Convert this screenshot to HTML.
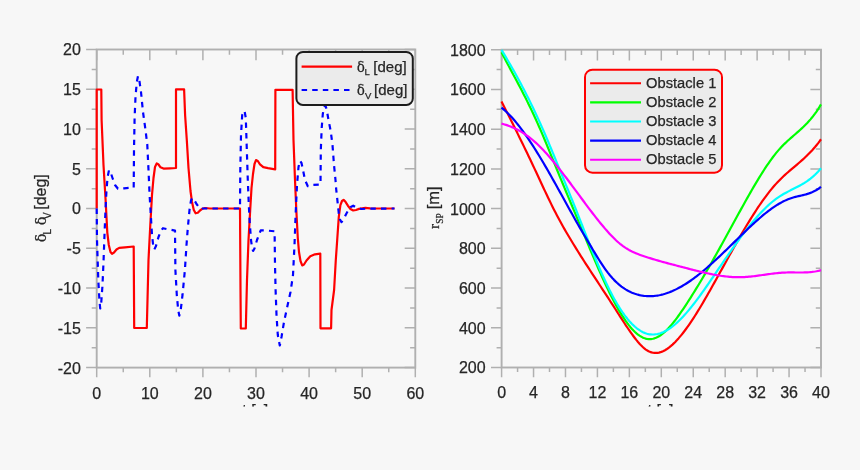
<!DOCTYPE html>
<html><head><meta charset="utf-8"><title>plot</title>
<style>
html,body{margin:0;padding:0;background:#f7f7f7;}
body{width:860px;height:470px;overflow:hidden;}
svg{display:block;filter:blur(0.3px);}
text{font-family:"Liberation Sans",Arial,Helvetica,sans-serif;fill:#262626;stroke:#262626;stroke-width:0.25px;}
.serif{font-family:"Liberation Serif","Times New Roman",serif;}
.greek{font-family:"DejaVu Math TeX Gyre","DejaVu Serif","Liberation Serif",serif;}
</style></head><body>
<svg width="860" height="470" viewBox="0 0 860 470">
<defs>
<clipPath id="cut"><rect x="0" y="0" width="860" height="406.6"/></clipPath>
<clipPath id="lclip"><rect x="94.7" y="49.5" width="320.6" height="318.1"/></clipPath>
<clipPath id="rclip"><rect x="499.6" y="47.7" width="323.4" height="321.8"/></clipPath>
</defs>
<rect width="860" height="470" fill="#f7f7f7"/>

<g clip-path="url(#cut)">
<rect x="96.7" y="49.5" width="318.6" height="318.1" fill="none" stroke="#b0b0b0" stroke-width="1.9"/>
<path d="M96.7 367.6V377.3M96.7 49.5V60.3M149.8 367.6V377.3M149.8 49.5V60.3M202.9 367.6V377.3M202.9 49.5V60.3M256 367.6V377.3M256 49.5V60.3M309.1 367.6V377.3M309.1 49.5V60.3M362.2 367.6V377.3M362.2 49.5V60.3M415.3 367.6V377.3M415.3 49.5V60.3M123.25 367.6V372.2M123.25 49.5V54.8M176.35 367.6V372.2M176.35 49.5V54.8M229.45 367.6V372.2M229.45 49.5V54.8M282.55 367.6V372.2M282.55 49.5V54.8M335.65 367.6V372.2M335.65 49.5V54.8M388.75 367.6V372.2M388.75 49.5V54.8M96.7 367.6H86.1M415.3 367.6H404.7M96.7 327.84H86.1M415.3 327.84H404.7M96.7 288.08H86.1M415.3 288.08H404.7M96.7 248.31H86.1M415.3 248.31H404.7M96.7 208.55H86.1M415.3 208.55H404.7M96.7 168.79H86.1M415.3 168.79H404.7M96.7 129.03H86.1M415.3 129.03H404.7M96.7 89.26H86.1M415.3 89.26H404.7M96.7 49.5H86.1M415.3 49.5H404.7M96.7 347.72H91.7M415.3 347.72H410.1M96.7 307.96H91.7M415.3 307.96H410.1M96.7 268.19H91.7M415.3 268.19H410.1M96.7 228.43H91.7M415.3 228.43H410.1M96.7 188.67H91.7M415.3 188.67H410.1M96.7 148.91H91.7M415.3 148.91H410.1M96.7 109.14H91.7M415.3 109.14H410.1M96.7 69.38H91.7M415.3 69.38H410.1" fill="none" stroke="#b0b0b0" stroke-width="1.5"/>
<text x="80.8" y="373.5" font-size="16" text-anchor="end">-20</text>
<text x="80.8" y="333.74" font-size="16" text-anchor="end">-15</text>
<text x="80.8" y="293.98" font-size="16" text-anchor="end">-10</text>
<text x="80.8" y="254.21" font-size="16" text-anchor="end">-5</text>
<text x="80.8" y="214.45" font-size="16" text-anchor="end">0</text>
<text x="80.8" y="174.69" font-size="16" text-anchor="end">5</text>
<text x="80.8" y="134.93" font-size="16" text-anchor="end">10</text>
<text x="80.8" y="95.16" font-size="16" text-anchor="end">15</text>
<text x="80.8" y="55.4" font-size="16" text-anchor="end">20</text>
<text x="96.7" y="398.5" font-size="16" text-anchor="middle">0</text>
<text x="149.8" y="398.5" font-size="16" text-anchor="middle">10</text>
<text x="202.9" y="398.5" font-size="16" text-anchor="middle">20</text>
<text x="256" y="398.5" font-size="16" text-anchor="middle">30</text>
<text x="309.1" y="398.5" font-size="16" text-anchor="middle">40</text>
<text x="362.2" y="398.5" font-size="16" text-anchor="middle">50</text>
<text x="415.3" y="398.5" font-size="16" text-anchor="middle">60</text>
<text x="255.2" y="416" font-size="16" text-anchor="middle">t [s]</text>
<text transform="translate(46,0) rotate(-90)" font-size="16"><tspan class="greek" x="-242.6" font-size="14">δ</tspan><tspan x="-234.4" font-size="10" dy="4.6">L</tspan><tspan class="greek" x="-225.6" dy="-4.6" font-size="14">δ</tspan><tspan x="-219" font-size="10" dy="4.6">V</tspan><tspan x="-209.8" dy="-4.6">[deg]</tspan></text>
<g clip-path="url(#lclip)" fill="none" stroke-width="2.2" stroke-linejoin="round">
<path d="M96.7 208.5 L96.7 89.5 L101.3 89.5 L101.6 120 L103.5 165 L105.6 200 L107.3 232.6 L108.8 245 L110.5 252 L112 253.8 L114 252.5 L116.5 249.5 L119.2 247.9 L125 247.3 L133.7 246.5 L134.2 328 L146.8 328 L147.5 300 L148.5 260 L150.3 225 L152 195 L153.5 178 L155 167 L156.7 163.4 L158.5 164.5 L160.5 167.3 L163.5 168.6 L170 168.3 L176 168 L176 89.4 L184.1 89.4 L185.1 115 L186.8 140 L188.5 168 L190.5 191 L192 202 L193.8 210 L195.6 213.3 L197.8 212.8 L200 210.5 L202.5 208.7 L205 208 L210 208.5 L240 208.5 L240.5 290 L240.8 328.5 L245.8 328.5 L247 280 L248.5 240 L250.2 210 L251.5 188 L253 174 L254.5 164 L256 160.1 L257.8 161 L260 164.4 L263.3 167.2 L268 168.2 L275.2 169.3 L275.4 89.8 L292.6 89.8 L293.5 140 L295 180 L296.3 210 L297.8 238 L299 252 L300.5 261 L302.2 265.4 L304 264.5 L306.5 260.5 L310.3 256.2 L315 254.3 L320.3 253.6 L320.5 328.3 L331.1 328.3 L331.5 310 L334.1 290 L335.8 260 L337.2 240 L338.8 216.9 L340.4 205.2 L342 201 L343.6 199.9 L345.5 201.8 L347.9 205.7 L350.5 209 L353.2 210.5 L356 210 L359 208.9 L365.4 207.9 L370 208.4 L394.5 208.5" stroke="#ff0000"/>
<path d="M96.7 208.5 L97 240 L98.3 280 L99.4 300 L100.2 308.5 L101.3 302 L102.5 285 L103.5 262 L104.5 235 L105.5 210 L106.5 190 L107.6 177 L109 170.2 L110.5 172 L112.5 178 L115 185 L118 188.8 L124 188.3 L133.7 187.6 L134 150 L134.6 118 L135.5 97 L136.8 82 L138 76.1 L139.3 80 L141 92 L143 112 L145.5 130 L147.3 145 L148.5 170 L149.6 195 L150.8 215 L152 235 L153.2 245.5 L154.3 249.5 L156 246 L158.5 237 L161 230.5 L163 228.2 L168 229.3 L175 230.6 L175.4 270 L176.8 295 L178.2 310 L179.3 315.6 L180.6 311 L182.5 295 L184.9 270 L186.5 245 L187.8 228 L189.5 210 L191 200.5 L192.2 197.9 L194 199.5 L196.5 204 L199.9 208.5 L240 208.5 L240.3 170 L241 135 L242.2 115 L244.5 110.7 L245.8 118 L246.5 140 L247.8 180 L248.8 205 L249.7 222 L251 240 L252.2 248.5 L253.1 250.9 L254.5 248.5 L257 240 L260.7 230.4 L266 230.5 L274.6 231.3 L275 265 L275.6 290 L276.5 315 L277.8 335 L279.8 345.5 L281.5 337 L284 322 L287 308 L290.5 292 L293 275 L294.5 245 L295.6 215 L297 185 L298.5 167 L299.9 160.7 L301.5 163 L303 170 L305 180 L307.8 186.2 L312 185 L320.5 184.5 L320.8 150 L321.7 128 L322.8 114 L324 107.5 L325.3 105.4 L326.6 109 L328.5 120 L330.7 131 L332.5 145 L334 165 L335.5 180 L336.2 189.3 L337.8 204.1 L338.8 213.7 L340 219.5 L341.5 222.2 L343.5 219.5 L346.3 213.7 L350 207.3 L353.2 205.7 L355.9 207.3 L361.2 209 L367.6 208.6 L394.5 208.5" stroke="#0000ff" stroke-dasharray="5.4 5.2"/>
</g>
<rect x="296.4" y="52" width="116.4" height="52.9" rx="6.5" fill="#ebebeb" stroke="#1c1c1c" stroke-width="2"/>
<path d="M301.6 66.6H352.1" stroke="#ff0000" stroke-width="2.1"/>
<path d="M301.6 90H350" stroke="#0000ff" stroke-width="2.1" stroke-dasharray="5.5 5.1"/>
<text class="greek" transform="translate(356.4,71.5) scale(0.92,1)" font-size="14.3">δ</text>
<text x="364.5" y="75.4" font-size="9.5">L</text>
<text x="373.3" y="71.5" font-size="15">[deg]</text>
<text class="greek" transform="translate(356.4,94.9) scale(0.92,1)" font-size="14.3">δ</text>
<text x="365.0" y="98.80000000000001" font-size="9.5">V</text>
<text x="374.1" y="94.9" font-size="15">[deg]</text>
<rect x="501.6" y="49.7" width="319.4" height="317.8" fill="none" stroke="#b0b0b0" stroke-width="1.9"/>
<path d="M501.6 367.5V377.2M501.6 49.7V60.5M533.54 367.5V377.2M533.54 49.7V60.5M565.48 367.5V377.2M565.48 49.7V60.5M597.42 367.5V377.2M597.42 49.7V60.5M629.36 367.5V377.2M629.36 49.7V60.5M661.3 367.5V377.2M661.3 49.7V60.5M693.24 367.5V377.2M693.24 49.7V60.5M725.18 367.5V377.2M725.18 49.7V60.5M757.12 367.5V377.2M757.12 49.7V60.5M789.06 367.5V377.2M789.06 49.7V60.5M821 367.5V377.2M821 49.7V60.5M517.57 367.5V372.1M517.57 49.7V55M549.51 367.5V372.1M549.51 49.7V55M581.45 367.5V372.1M581.45 49.7V55M613.39 367.5V372.1M613.39 49.7V55M645.33 367.5V372.1M645.33 49.7V55M677.27 367.5V372.1M677.27 49.7V55M709.21 367.5V372.1M709.21 49.7V55M741.15 367.5V372.1M741.15 49.7V55M773.09 367.5V372.1M773.09 49.7V55M805.03 367.5V372.1M805.03 49.7V55M501.6 367.5H491M821 367.5H810.4M501.6 327.77H491M821 327.77H810.4M501.6 288.05H491M821 288.05H810.4M501.6 248.32H491M821 248.32H810.4M501.6 208.6H491M821 208.6H810.4M501.6 168.88H491M821 168.88H810.4M501.6 129.15H491M821 129.15H810.4M501.6 89.43H491M821 89.43H810.4M501.6 49.7H491M821 49.7H810.4M501.6 347.64H496.6M821 347.64H815.8M501.6 307.91H496.6M821 307.91H815.8M501.6 268.19H496.6M821 268.19H815.8M501.6 228.46H496.6M821 228.46H815.8M501.6 188.74H496.6M821 188.74H815.8M501.6 149.01H496.6M821 149.01H815.8M501.6 109.29H496.6M821 109.29H815.8M501.6 69.56H496.6M821 69.56H815.8" fill="none" stroke="#b0b0b0" stroke-width="1.5"/>
<text x="485.6" y="373.4" font-size="16" text-anchor="end">200</text>
<text x="485.6" y="333.67" font-size="16" text-anchor="end">400</text>
<text x="485.6" y="293.95" font-size="16" text-anchor="end">600</text>
<text x="485.6" y="254.22" font-size="16" text-anchor="end">800</text>
<text x="485.6" y="214.5" font-size="16" text-anchor="end">1000</text>
<text x="485.6" y="174.78" font-size="16" text-anchor="end">1200</text>
<text x="485.6" y="135.05" font-size="16" text-anchor="end">1400</text>
<text x="485.6" y="95.33" font-size="16" text-anchor="end">1600</text>
<text x="485.6" y="55.6" font-size="16" text-anchor="end">1800</text>
<text x="501.6" y="398.3" font-size="16" text-anchor="middle">0</text>
<text x="533.54" y="398.3" font-size="16" text-anchor="middle">4</text>
<text x="565.48" y="398.3" font-size="16" text-anchor="middle">8</text>
<text x="597.42" y="398.3" font-size="16" text-anchor="middle">12</text>
<text x="629.36" y="398.3" font-size="16" text-anchor="middle">16</text>
<text x="661.3" y="398.3" font-size="16" text-anchor="middle">20</text>
<text x="693.24" y="398.3" font-size="16" text-anchor="middle">24</text>
<text x="725.18" y="398.3" font-size="16" text-anchor="middle">28</text>
<text x="757.12" y="398.3" font-size="16" text-anchor="middle">32</text>
<text x="789.06" y="398.3" font-size="16" text-anchor="middle">36</text>
<text x="821" y="398.3" font-size="16" text-anchor="middle">40</text>
<text x="660.5" y="416" font-size="16" text-anchor="middle">t [s]</text>
<text transform="translate(439.2,0) rotate(-90)" font-size="16.5"><tspan class="serif" x="-229" font-size="15.2">r</tspan><tspan class="serif" x="-223.8" font-size="9.4" dy="4">SP</tspan><tspan x="-209.3" dy="-4">[m]</tspan></text>
<g clip-path="url(#rclip)" fill="none" stroke-width="2.2" stroke-linejoin="round">
<path d="M501.5 101.52 L503 104.47 L504.5 107.43 L506 110.39 L507.5 113.36 L509 116.34 L510.5 119.32 L512 122.31 L513.5 125.31 L515 128.32 L516.5 131.34 L518 134.37 L519.5 137.41 L521 140.47 L522.5 143.54 L524 146.62 L525.5 149.71 L527 152.82 L528.5 155.95 L530 159.09 L531.5 162.25 L533 165.43 L534.5 168.63 L536 171.84 L537.5 175.06 L539 178.28 L540.5 181.51 L542 184.73 L543.5 187.94 L545 191.13 L546.5 194.3 L548 197.45 L549.5 200.56 L551 203.64 L552.5 206.67 L554 209.66 L555.5 212.59 L557 215.46 L558.5 218.29 L560 221.06 L561.5 223.78 L563 226.46 L564.5 229.09 L566 231.69 L567.5 234.26 L569 236.79 L570.5 239.3 L572 241.79 L573.5 244.25 L575 246.69 L576.5 249.12 L578 251.53 L579.5 253.92 L581 256.29 L582.5 258.65 L584 261 L585.5 263.33 L587 265.65 L588.5 267.97 L590 270.27 L591.5 272.57 L593 274.86 L594.5 277.15 L596 279.43 L597.5 281.71 L599 283.99 L600.5 286.27 L602 288.55 L603.5 290.83 L605 293.11 L606.5 295.4 L608 297.69 L609.5 299.99 L611 302.3 L612.5 304.61 L614 306.94 L615.5 309.28 L617 311.62 L618.5 313.97 L620 316.31 L621.5 318.64 L623 320.96 L624.5 323.25 L626 325.52 L627.5 327.76 L629 329.95 L630.5 332.11 L632 334.21 L633.5 336.26 L635 338.24 L636.5 340.15 L638 341.97 L639.5 343.69 L641 345.29 L642.5 346.77 L644 348.11 L645.5 349.3 L647 350.33 L648.5 351.18 L650 351.86 L651.5 352.38 L653 352.72 L654.5 352.91 L656 352.95 L657.5 352.83 L659 352.57 L660.5 352.17 L662 351.64 L663.5 350.98 L665 350.2 L666.5 349.29 L668 348.28 L669.5 347.15 L671 345.92 L672.5 344.59 L674 343.17 L675.5 341.66 L677 340.07 L678.5 338.4 L680 336.65 L681.5 334.84 L683 332.95 L684.5 331 L686 328.99 L687.5 326.91 L689 324.78 L690.5 322.59 L692 320.35 L693.5 318.06 L695 315.73 L696.5 313.35 L698 310.93 L699.5 308.47 L701 305.98 L702.5 303.45 L704 300.89 L705.5 298.31 L707 295.7 L708.5 293.07 L710 290.42 L711.5 287.76 L713 285.08 L714.5 282.39 L716 279.69 L717.5 276.99 L719 274.28 L720.5 271.57 L722 268.86 L723.5 266.14 L725 263.43 L726.5 260.72 L728 258.02 L729.5 255.32 L731 252.63 L732.5 249.95 L734 247.28 L735.5 244.62 L737 241.98 L738.5 239.36 L740 236.75 L741.5 234.17 L743 231.6 L744.5 229.06 L746 226.54 L747.5 224.05 L749 221.58 L750.5 219.15 L752 216.75 L753.5 214.38 L755 212.04 L756.5 209.74 L758 207.48 L759.5 205.25 L761 203.07 L762.5 200.93 L764 198.84 L765.5 196.79 L767 194.79 L768.5 192.83 L770 190.93 L771.5 189.08 L773 187.29 L774.5 185.55 L776 183.87 L777.5 182.25 L779 180.68 L780.5 179.17 L782 177.71 L783.5 176.29 L785 174.9 L786.5 173.55 L788 172.23 L789.5 170.93 L791 169.64 L792.5 168.36 L794 167.1 L795.5 165.83 L797 164.55 L798.5 163.27 L800 161.97 L801.5 160.66 L803 159.31 L804.5 157.94 L806 156.53 L807.5 155.07 L809 153.57 L810.5 152.02 L812 150.42 L813.5 148.74 L815 147.01 L816.5 145.2 L818 143.31 L819.5 141.33 L821 139.27" stroke="#ff0000"/>
<path d="M501.5 52.24 L503 55.16 L504.5 58.05 L506 60.91 L507.5 63.74 L509 66.56 L510.5 69.37 L512 72.17 L513.5 74.97 L515 77.76 L516.5 80.57 L518 83.39 L519.5 86.23 L521 89.1 L522.5 91.99 L524 94.91 L525.5 97.87 L527 100.87 L528.5 103.92 L530 107 L531.5 110.13 L533 113.3 L534.5 116.52 L536 119.79 L537.5 123.11 L539 126.49 L540.5 129.92 L542 133.4 L543.5 136.93 L545 140.5 L546.5 144.11 L548 147.74 L549.5 151.39 L551 155.07 L552.5 158.75 L554 162.43 L555.5 166.11 L557 169.77 L558.5 173.42 L560 177.06 L561.5 180.68 L563 184.29 L564.5 187.88 L566 191.47 L567.5 195.06 L569 198.63 L570.5 202.21 L572 205.79 L573.5 209.36 L575 212.94 L576.5 216.53 L578 220.12 L579.5 223.73 L581 227.34 L582.5 230.96 L584 234.57 L585.5 238.19 L587 241.8 L588.5 245.39 L590 248.98 L591.5 252.54 L593 256.09 L594.5 259.61 L596 263.1 L597.5 266.56 L599 269.99 L600.5 273.37 L602 276.71 L603.5 280.01 L605 283.26 L606.5 286.45 L608 289.58 L609.5 292.65 L611 295.66 L612.5 298.6 L614 301.47 L615.5 304.26 L617 306.97 L618.5 309.6 L620 312.14 L621.5 314.59 L623 316.95 L624.5 319.21 L626 321.37 L627.5 323.42 L629 325.37 L630.5 327.2 L632 328.92 L633.5 330.52 L635 331.99 L636.5 333.34 L638 334.56 L639.5 335.64 L641 336.58 L642.5 337.39 L644 338.05 L645.5 338.56 L647 338.91 L648.5 339.12 L650 339.16 L651.5 339.04 L653 338.76 L654.5 338.34 L656 337.77 L657.5 337.06 L659 336.22 L660.5 335.25 L662 334.16 L663.5 332.96 L665 331.64 L666.5 330.22 L668 328.7 L669.5 327.09 L671 325.38 L672.5 323.6 L674 321.74 L675.5 319.81 L677 317.81 L678.5 315.75 L680 313.64 L681.5 311.49 L683 309.28 L684.5 307.05 L686 304.78 L687.5 302.48 L689 300.16 L690.5 297.81 L692 295.44 L693.5 293.04 L695 290.62 L696.5 288.17 L698 285.71 L699.5 283.22 L701 280.72 L702.5 278.19 L704 275.65 L705.5 273.08 L707 270.51 L708.5 267.91 L710 265.3 L711.5 262.67 L713 260.03 L714.5 257.38 L716 254.71 L717.5 252.04 L719 249.35 L720.5 246.65 L722 243.94 L723.5 241.22 L725 238.5 L726.5 235.77 L728 233.03 L729.5 230.29 L731 227.54 L732.5 224.8 L734 222.05 L735.5 219.3 L737 216.56 L738.5 213.82 L740 211.1 L741.5 208.38 L743 205.67 L744.5 202.97 L746 200.29 L747.5 197.63 L749 194.98 L750.5 192.35 L752 189.75 L753.5 187.17 L755 184.61 L756.5 182.09 L758 179.59 L759.5 177.13 L761 174.71 L762.5 172.33 L764 169.99 L765.5 167.7 L767 165.45 L768.5 163.26 L770 161.13 L771.5 159.05 L773 157.03 L774.5 155.08 L776 153.19 L777.5 151.37 L779 149.63 L780.5 147.96 L782 146.36 L783.5 144.83 L785 143.36 L786.5 141.94 L788 140.55 L789.5 139.21 L791 137.88 L792.5 136.58 L794 135.29 L795.5 133.99 L797 132.69 L798.5 131.38 L800 130.04 L801.5 128.67 L803 127.26 L804.5 125.81 L806 124.3 L807.5 122.73 L809 121.08 L810.5 119.36 L812 117.55 L813.5 115.65 L815 113.64 L816.5 111.52 L818 109.29 L819.5 106.92 L821 104.42" stroke="#00ff00"/>
<path d="M501.5 49.86 L503 52.35 L504.5 54.86 L506 57.39 L507.5 59.95 L509 62.52 L510.5 65.12 L512 67.74 L513.5 70.4 L515 73.07 L516.5 75.78 L518 78.52 L519.5 81.29 L521 84.09 L522.5 86.92 L524 89.79 L525.5 92.69 L527 95.63 L528.5 98.61 L530 101.63 L531.5 104.69 L533 107.79 L534.5 110.93 L536 114.12 L537.5 117.35 L539 120.63 L540.5 123.95 L542 127.33 L543.5 130.75 L545 134.23 L546.5 137.74 L548 141.3 L549.5 144.88 L551 148.49 L552.5 152.13 L554 155.78 L555.5 159.44 L557 163.11 L558.5 166.78 L560 170.44 L561.5 174.1 L563 177.75 L564.5 181.4 L566 185.05 L567.5 188.71 L569 192.37 L570.5 196.06 L572 199.76 L573.5 203.49 L575 207.24 L576.5 211.01 L578 214.8 L579.5 218.61 L581 222.42 L582.5 226.23 L584 230.04 L585.5 233.85 L587 237.64 L588.5 241.42 L590 245.18 L591.5 248.91 L593 252.6 L594.5 256.27 L596 259.89 L597.5 263.47 L599 267 L600.5 270.47 L602 273.88 L603.5 277.23 L605 280.5 L606.5 283.71 L608 286.83 L609.5 289.87 L611 292.82 L612.5 295.68 L614 298.44 L615.5 301.11 L617 303.68 L618.5 306.16 L620 308.54 L621.5 310.82 L623 313 L624.5 315.08 L626 317.06 L627.5 318.93 L629 320.71 L630.5 322.38 L632 323.95 L633.5 325.41 L635 326.77 L636.5 328.02 L638 329.16 L639.5 330.19 L641 331.12 L642.5 331.93 L644 332.63 L645.5 333.23 L647 333.7 L648.5 334.07 L650 334.33 L651.5 334.47 L653 334.51 L654.5 334.44 L656 334.28 L657.5 334.01 L659 333.65 L660.5 333.19 L662 332.64 L663.5 332 L665 331.27 L666.5 330.46 L668 329.57 L669.5 328.6 L671 327.55 L672.5 326.43 L674 325.23 L675.5 323.97 L677 322.64 L678.5 321.24 L680 319.78 L681.5 318.26 L683 316.69 L684.5 315.06 L686 313.38 L687.5 311.65 L689 309.87 L690.5 308.05 L692 306.18 L693.5 304.27 L695 302.33 L696.5 300.36 L698 298.35 L699.5 296.31 L701 294.24 L702.5 292.15 L704 290.04 L705.5 287.9 L707 285.75 L708.5 283.59 L710 281.41 L711.5 279.22 L713 277.03 L714.5 274.83 L716 272.62 L717.5 270.42 L719 268.22 L720.5 266.02 L722 263.82 L723.5 261.63 L725 259.44 L726.5 257.26 L728 255.09 L729.5 252.93 L731 250.78 L732.5 248.65 L734 246.53 L735.5 244.42 L737 242.34 L738.5 240.27 L740 238.22 L741.5 236.2 L743 234.2 L744.5 232.22 L746 230.27 L747.5 228.35 L749 226.45 L750.5 224.59 L752 222.76 L753.5 220.96 L755 219.19 L756.5 217.47 L758 215.77 L759.5 214.12 L761 212.51 L762.5 210.94 L764 209.41 L765.5 207.93 L767 206.5 L768.5 205.11 L770 203.77 L771.5 202.48 L773 201.24 L774.5 200.05 L776 198.92 L777.5 197.85 L779 196.83 L780.5 195.87 L782 194.95 L783.5 194.07 L785 193.23 L786.5 192.42 L788 191.63 L789.5 190.86 L791 190.1 L792.5 189.35 L794 188.59 L795.5 187.83 L797 187.06 L798.5 186.27 L800 185.46 L801.5 184.62 L803 183.74 L804.5 182.82 L806 181.85 L807.5 180.83 L809 179.75 L810.5 178.61 L812 177.39 L813.5 176.1 L815 174.73 L816.5 173.27 L818 171.71 L819.5 170.05 L821 168.29" stroke="#00ffff"/>
<path d="M501.5 107.58 L503 108.81 L504.5 110.12 L506 111.48 L507.5 112.92 L509 114.42 L510.5 115.99 L512 117.61 L513.5 119.3 L515 121.04 L516.5 122.85 L518 124.7 L519.5 126.61 L521 128.58 L522.5 130.59 L524 132.65 L525.5 134.75 L527 136.9 L528.5 139.1 L530 141.34 L531.5 143.61 L533 145.92 L534.5 148.27 L536 150.66 L537.5 153.08 L539 155.52 L540.5 158 L542 160.51 L543.5 163.04 L545 165.6 L546.5 168.17 L548 170.77 L549.5 173.39 L551 176.03 L552.5 178.68 L554 181.35 L555.5 184.03 L557 186.72 L558.5 189.42 L560 192.12 L561.5 194.83 L563 197.55 L564.5 200.27 L566 202.99 L567.5 205.7 L569 208.42 L570.5 211.13 L572 213.82 L573.5 216.51 L575 219.18 L576.5 221.84 L578 224.47 L579.5 227.08 L581 229.66 L582.5 232.22 L584 234.76 L585.5 237.29 L587 239.82 L588.5 242.36 L590 244.89 L591.5 247.42 L593 249.94 L594.5 252.44 L596 254.91 L597.5 257.35 L599 259.75 L600.5 262.1 L602 264.39 L603.5 266.62 L605 268.78 L606.5 270.85 L608 272.85 L609.5 274.75 L611 276.55 L612.5 278.25 L614 279.86 L615.5 281.38 L617 282.8 L618.5 284.14 L620 285.4 L621.5 286.57 L623 287.66 L624.5 288.67 L626 289.61 L627.5 290.47 L629 291.27 L630.5 291.99 L632 292.65 L633.5 293.25 L635 293.79 L636.5 294.27 L638 294.69 L639.5 295.06 L641 295.38 L642.5 295.64 L644 295.85 L645.5 296.01 L647 296.12 L648.5 296.19 L650 296.2 L651.5 296.16 L653 296.07 L654.5 295.94 L656 295.77 L657.5 295.54 L659 295.28 L660.5 294.97 L662 294.61 L663.5 294.22 L665 293.78 L666.5 293.3 L668 292.78 L669.5 292.23 L671 291.63 L672.5 291 L674 290.33 L675.5 289.62 L677 288.88 L678.5 288.1 L680 287.29 L681.5 286.44 L683 285.57 L684.5 284.66 L686 283.72 L687.5 282.75 L689 281.75 L690.5 280.72 L692 279.66 L693.5 278.58 L695 277.47 L696.5 276.33 L698 275.17 L699.5 273.99 L701 272.78 L702.5 271.55 L704 270.3 L705.5 269.03 L707 267.75 L708.5 266.44 L710 265.11 L711.5 263.77 L713 262.42 L714.5 261.05 L716 259.67 L717.5 258.27 L719 256.86 L720.5 255.45 L722 254.02 L723.5 252.58 L725 251.14 L726.5 249.69 L728 248.24 L729.5 246.78 L731 245.31 L732.5 243.85 L734 242.38 L735.5 240.91 L737 239.44 L738.5 237.97 L740 236.51 L741.5 235.04 L743 233.59 L744.5 232.13 L746 230.69 L747.5 229.25 L749 227.82 L750.5 226.41 L752 225.01 L753.5 223.62 L755 222.25 L756.5 220.9 L758 219.57 L759.5 218.25 L761 216.97 L762.5 215.7 L764 214.46 L765.5 213.25 L767 212.06 L768.5 210.91 L770 209.78 L771.5 208.69 L773 207.64 L774.5 206.62 L776 205.64 L777.5 204.69 L779 203.79 L780.5 202.93 L782 202.12 L783.5 201.34 L785 200.62 L786.5 199.94 L788 199.32 L789.5 198.74 L791 198.22 L792.5 197.74 L794 197.31 L795.5 196.92 L797 196.54 L798.5 196.19 L800 195.84 L801.5 195.49 L803 195.12 L804.5 194.74 L806 194.34 L807.5 193.89 L809 193.4 L810.5 192.86 L812 192.26 L813.5 191.58 L815 190.82 L816.5 189.98 L818 189.03 L819.5 187.99 L821 186.82" stroke="#0000ff"/>
<path d="M501.5 123.61 L503 124.01 L504.5 124.44 L506 124.9 L507.5 125.41 L509 125.94 L510.5 126.52 L512 127.13 L513.5 127.79 L515 128.48 L516.5 129.21 L518 129.99 L519.5 130.81 L521 131.67 L522.5 132.58 L524 133.53 L525.5 134.54 L527 135.58 L528.5 136.68 L530 137.83 L531.5 139.02 L533 140.27 L534.5 141.57 L536 142.92 L537.5 144.31 L539 145.75 L540.5 147.23 L542 148.76 L543.5 150.33 L545 151.93 L546.5 153.57 L548 155.25 L549.5 156.96 L551 158.71 L552.5 160.48 L554 162.29 L555.5 164.12 L557 165.97 L558.5 167.85 L560 169.75 L561.5 171.67 L563 173.61 L564.5 175.57 L566 177.54 L567.5 179.53 L569 181.53 L570.5 183.53 L572 185.55 L573.5 187.57 L575 189.6 L576.5 191.64 L578 193.67 L579.5 195.7 L581 197.73 L582.5 199.76 L584 201.78 L585.5 203.8 L587 205.81 L588.5 207.8 L590 209.79 L591.5 211.76 L593 213.71 L594.5 215.65 L596 217.57 L597.5 219.47 L599 221.35 L600.5 223.2 L602 225.02 L603.5 226.82 L605 228.59 L606.5 230.32 L608 232.02 L609.5 233.67 L611 235.28 L612.5 236.84 L614 238.34 L615.5 239.8 L617 241.19 L618.5 242.52 L620 243.78 L621.5 244.98 L623 246.1 L624.5 247.15 L626 248.14 L627.5 249.06 L629 249.92 L630.5 250.73 L632 251.49 L633.5 252.2 L635 252.87 L636.5 253.5 L638 254.1 L639.5 254.67 L641 255.21 L642.5 255.74 L644 256.24 L645.5 256.74 L647 257.22 L648.5 257.7 L650 258.17 L651.5 258.63 L653 259.09 L654.5 259.53 L656 259.98 L657.5 260.41 L659 260.84 L660.5 261.27 L662 261.69 L663.5 262.11 L665 262.52 L666.5 262.93 L668 263.33 L669.5 263.73 L671 264.13 L672.5 264.53 L674 264.92 L675.5 265.31 L677 265.7 L678.5 266.09 L680 266.48 L681.5 266.87 L683 267.26 L684.5 267.65 L686 268.04 L687.5 268.43 L689 268.81 L690.5 269.2 L692 269.59 L693.5 269.97 L695 270.35 L696.5 270.73 L698 271.1 L699.5 271.47 L701 271.84 L702.5 272.19 L704 272.54 L705.5 272.88 L707 273.22 L708.5 273.54 L710 273.86 L711.5 274.17 L713 274.46 L714.5 274.74 L716 275.02 L717.5 275.28 L719 275.52 L720.5 275.75 L722 275.97 L723.5 276.17 L725 276.36 L726.5 276.53 L728 276.68 L729.5 276.82 L731 276.93 L732.5 277.03 L734 277.11 L735.5 277.16 L737 277.2 L738.5 277.21 L740 277.21 L741.5 277.17 L743 277.12 L744.5 277.04 L746 276.95 L747.5 276.84 L749 276.71 L750.5 276.56 L752 276.4 L753.5 276.23 L755 276.05 L756.5 275.86 L758 275.66 L759.5 275.45 L761 275.24 L762.5 275.03 L764 274.82 L765.5 274.6 L767 274.39 L768.5 274.18 L770 273.98 L771.5 273.78 L773 273.59 L774.5 273.41 L776 273.24 L777.5 273.09 L779 272.94 L780.5 272.82 L782 272.71 L783.5 272.61 L785 272.54 L786.5 272.49 L788 272.46 L789.5 272.45 L791 272.44 L792.5 272.45 L794 272.46 L795.5 272.48 L797 272.5 L798.5 272.51 L800 272.52 L801.5 272.51 L803 272.5 L804.5 272.47 L806 272.41 L807.5 272.34 L809 272.24 L810.5 272.11 L812 271.96 L813.5 271.76 L815 271.53 L816.5 271.25 L818 270.93 L819.5 270.57 L821 270.15" stroke="#ff00ff"/>
</g>
<rect x="585" y="69.7" width="137" height="103" rx="7.5" fill="#ebebeb" stroke="#ff0000" stroke-width="2"/>
<path d="M590.1 83.3H641" stroke="#ff0000" stroke-width="2.1"/>
<text x="646.1" y="87.9" font-size="14.7">Obstacle 1</text>
<path d="M590.1 102.4H641" stroke="#00ff00" stroke-width="2.1"/>
<text x="646.1" y="107" font-size="14.7">Obstacle 2</text>
<path d="M590.1 121.5H641" stroke="#00ffff" stroke-width="2.1"/>
<text x="646.1" y="126.1" font-size="14.7">Obstacle 3</text>
<path d="M590.1 140.6H641" stroke="#0000ff" stroke-width="2.1"/>
<text x="646.1" y="145.2" font-size="14.7">Obstacle 4</text>
<path d="M590.1 159.7H641" stroke="#ff00ff" stroke-width="2.1"/>
<text x="646.1" y="164.3" font-size="14.7">Obstacle 5</text>
</g>
</svg>
</body></html>
